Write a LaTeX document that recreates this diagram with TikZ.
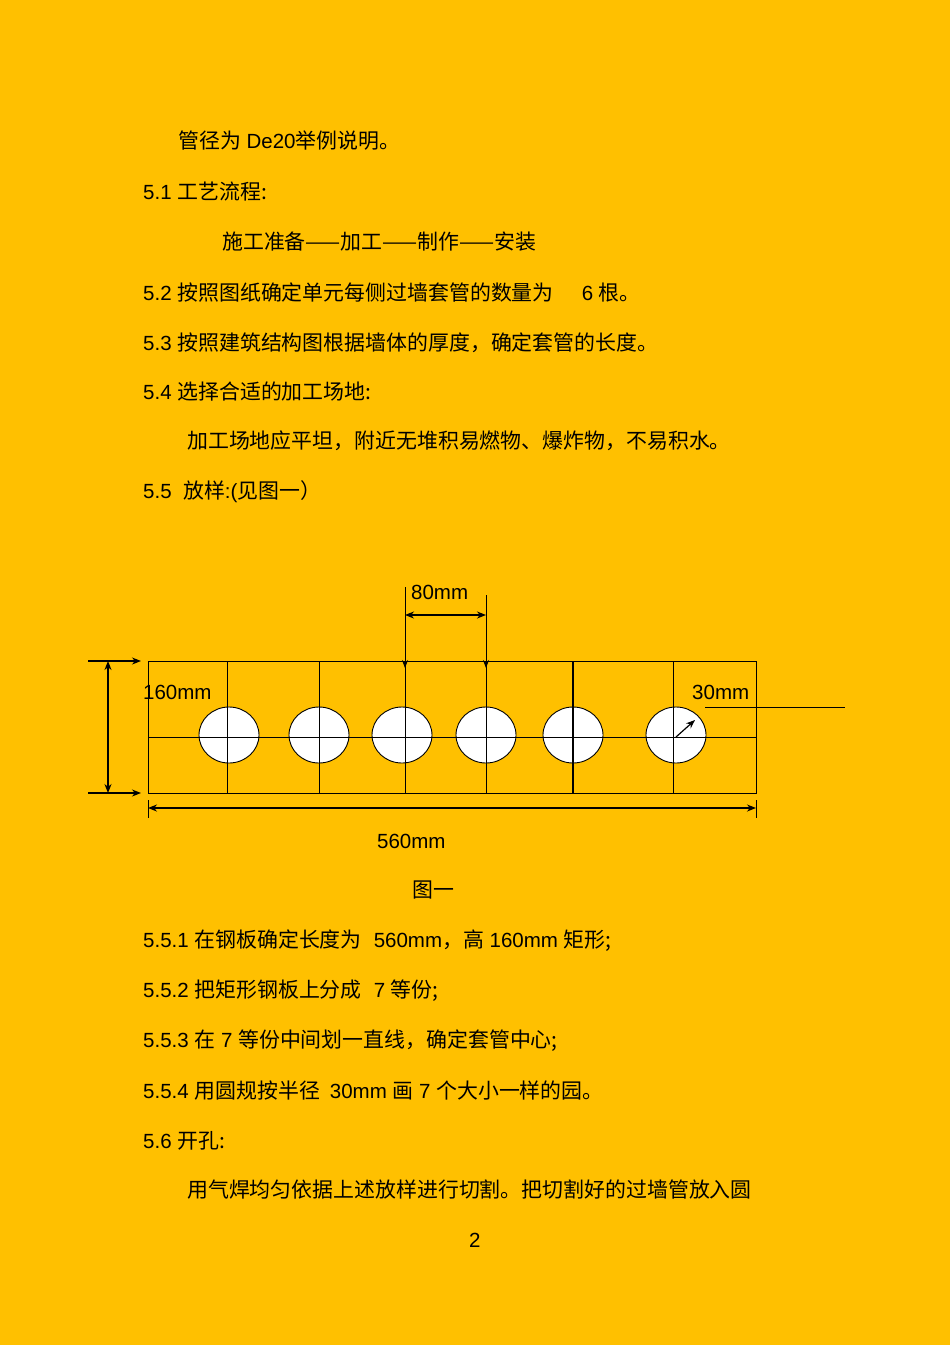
\documentclass[tikz,border=0pt]{standalone}
\usepackage{fontspec}
\setmainfont{Liberation Sans}
\newfontfamily\cjk{Noto Sans CJK SC}[Scale=1.02]
\usetikzlibrary{arrows.meta}
\definecolor{bg}{HTML}{FFC000}
\begin{document}
\begin{tikzpicture}[x=1pt,y=-1pt,
  txt/.style={anchor=west,inner sep=0pt,font=\fontsize{20.5}{22}\selectfont},
  ln/.style={line width=0.9pt},
  dim/.style={line width=1.2pt,-{Stealth[length=9pt,width=7pt]}},
  dimb/.style={line width=1.4pt,{Stealth[length=9pt,width=7pt]}-{Stealth[length=9pt,width=7pt]}},
  hole/.style={draw,fill=white,line width=0.9pt}]
\fill[bg] (0,0) rectangle (950,1345);
\useasboundingbox (0,0) rectangle (950,1345);
\node[txt] (t1) at (178,141) {{\cjk 管径为} De20{\cjk 举例说明。}};
\node[txt] (t2) at (143,192) {5.1 {\cjk 工艺流程:}};
\node[txt] (t3) at (222,242) {{\cjk 施工准备——加工——制作——安装}};
\node[txt] (t4) at (143,293) {5.2 {\cjk 按照图纸确定单元每侧过墙套管的数量为}\hspace{28pt}6 {\cjk 根。}};
\node[txt] (t5) at (143,343) {5.3 {\cjk 按照建筑结构图根据墙体的厚度，确定套管的长度。}};
\node[txt] (t6) at (143,392) {5.4 {\cjk 选择合适的加工场地:}};
\node[txt] (t7) at (187,441) {{\cjk 加工场地应平坦，附近无堆积易燃物、爆炸物，不易积水。}};
\node[txt] (t8) at (143,492) {5.5\ \ {\cjk 放样}:({\cjk 见图一）}};
% diagram
\draw[ln] (148,661) rectangle (756,793);
\draw[ln] (148,737) -- (756,737);
\foreach \x in {227,319,405,486,573,673}{
  \draw[ln] (\x,661) -- (\x,793);
}
\foreach \x in {229,319,402,486,573,676}{
  \draw[hole] (\x,735) ellipse [x radius=30, y radius=28];
  \draw[ln] (\x-30,737) -- (\x+30,737);
}
\foreach \x in {227,319,405,486,673}{\draw[ln] (\x,707) -- (\x,763);}
\draw[line width=1.5pt] (573,661) -- (573,793);
\coordinate (c6) at (676,737);
\coordinate (r6) at (695,720);
\draw[dim] (c6) -- (r6);
% 160 dimension
\coordinate (v1) at (108,661); \coordinate (v2) at (108,793);
\draw[dimb] (v1) -- (v2);
\draw[dim] (88,661) -- (141,661);
\draw[dim] (88,793) -- (141,793);
\node[txt] (h160) at (143,692) {160mm};
% 80 dimension
\coordinate (a1) at (405,587); \coordinate (a2) at (405,668);
\coordinate (b1) at (486,595); \coordinate (b2) at (486,668);
\draw[ln,-{Stealth[length=8pt,width=6pt]}] (a1) -- (a2);
\draw[ln,-{Stealth[length=8pt,width=6pt]}] (b1) -- (b2);
\draw[dimb] (405,615) -- (486,615);
\node[txt] (h80) at (411,592) {80mm};
% 560 dimension
\draw[dimb] (148,808) -- (756,808);
\draw[ln] (148,800) -- (148,818);
\draw[ln] (756,800) -- (756,818);
\node[txt] (h560) at (377,841) {560mm};
% 30 label
\node[txt] (h30) at (692,692) {30mm};
\draw[ln] (705,707) -- (845,707);
\node[txt] (cap) at (412,890) {{\cjk 图一}};
\node[txt] (s1) at (143,941) {5.5.1 {\cjk 在钢板确定长度为}\hspace{12pt}560mm{\cjk ，高} 160mm {\cjk 矩形;}};
\node[txt] (s2) at (143,991) {5.5.2 {\cjk 把矩形钢板上分成}\hspace{12pt}7 {\cjk 等份;}};
\node[txt] (s3) at (143,1041) {5.5.3 {\cjk 在} 7 {\cjk 等份中间划一直线，确定套管中心;}};
\node[txt] (s4) at (143,1091) {5.5.4 {\cjk 用圆规按半径}\hspace{10pt}30mm {\cjk 画} 7 {\cjk 个大小一样的园。}};
\node[txt] (s5) at (143,1141) {5.6 {\cjk 开孔:}};
\node[txt] (s6) at (187,1190) {{\cjk 用气焊均匀依据上述放样进行切割。把切割好的过墙管放入圆}};
\node[txt] (pg) at (469,1240) {2};
\end{tikzpicture}
\end{document}
